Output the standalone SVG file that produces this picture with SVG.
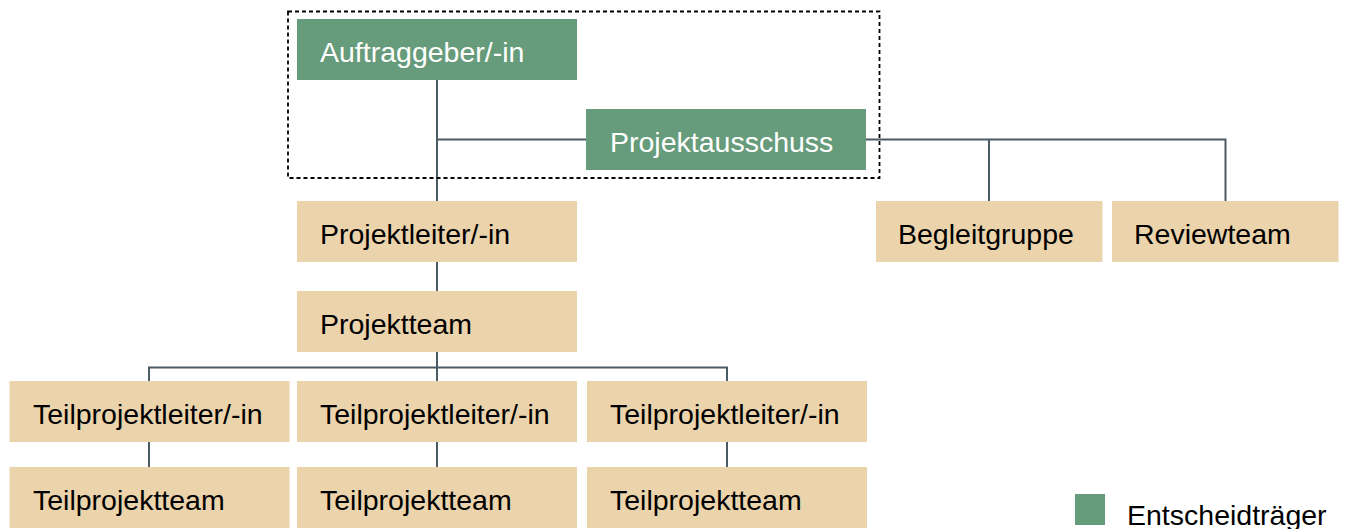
<svg xmlns="http://www.w3.org/2000/svg" width="1346" height="529" viewBox="0 0 1346 529">
<style>
.g{fill:#669b7b}
.b{fill:#ebd3ac}
.t{font-family:"Liberation Sans",Arial,sans-serif;font-size:28.5px;fill:#000}
.w{fill:#fff}
.c{stroke:#4b5b66;stroke-width:2;fill:none}
</style>
<rect width="1346" height="529" fill="#fff"/>
<g id="connectors" class="c">
<path d="M437 80V201"/>
<path d="M437 139.5H586"/>
<path d="M866 139.5H1225.5V201"/>
<path d="M989 139.5V201"/>
<path d="M437 261V291"/>
<path d="M437 351V381"/>
<path d="M149 381V367.5H727V381"/>
<path d="M149 441V467"/>
<path d="M437 441V467"/>
<path d="M727 441V467"/>
</g>
<rect id="boundary" x="288" y="11.5" width="591.5" height="166.5" fill="none" stroke="#000" stroke-width="1.8" stroke-dasharray="4,3"/>
<g id="auftraggeber"><rect class="g" x="297" y="19" width="280" height="61"/><text class="t w" x="320" y="62">Auftraggeber/-in</text></g>
<g id="projektausschuss"><rect class="g" x="586" y="109" width="280" height="61"/><text class="t w" x="610" y="152">Projektausschuss</text></g>
<g id="projektleiter"><rect class="b" x="297" y="201" width="280" height="61"/><text class="t" x="320" y="244">Projektleiter/-in</text></g>
<g id="projektteam"><rect class="b" x="297" y="291" width="280" height="61"/><text class="t" x="320" y="334">Projektteam</text></g>
<g id="begleitgruppe"><rect class="b" x="876" y="201" width="226.5" height="61"/><text class="t" x="898" y="244">Begleitgruppe</text></g>
<g id="reviewteam"><rect class="b" x="1112" y="201" width="226.5" height="61"/><text class="t" x="1134" y="244">Reviewteam</text></g>
<g id="tpl1"><rect class="b" x="9.5" y="381" width="280" height="61"/><text class="t" x="33" y="424">Teilprojektleiter/-in</text></g>
<g id="tpl2"><rect class="b" x="297" y="381" width="280" height="61"/><text class="t" x="320" y="424">Teilprojektleiter/-in</text></g>
<g id="tpl3"><rect class="b" x="587" y="381" width="280" height="61"/><text class="t" x="610" y="424">Teilprojektleiter/-in</text></g>
<g id="tpt1"><rect class="b" x="9.5" y="467" width="280" height="61"/><text class="t" x="33" y="510">Teilprojektteam</text></g>
<g id="tpt2"><rect class="b" x="297" y="467" width="280" height="61"/><text class="t" x="320" y="510">Teilprojektteam</text></g>
<g id="tpt3"><rect class="b" x="587" y="467" width="280" height="61"/><text class="t" x="610" y="510">Teilprojektteam</text></g>
<g id="legend"><rect class="g" x="1075" y="494" width="30" height="31"/><text class="t" x="1127" y="525">Entscheidträger</text></g>
</svg>
